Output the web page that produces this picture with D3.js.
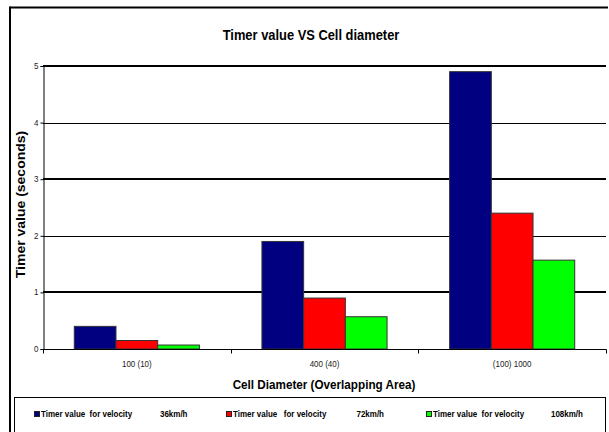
<!DOCTYPE html>
<html>
<head>
<meta charset="utf-8">
<script src="https://cdn.jsdelivr.net/npm/d3@7"></script>
<style>
  html, body { margin: 0; padding: 0; background: #fff; }
  svg { display: block; font-family: Arial, "Liberation Sans", sans-serif; }
</style>
</head>
<body>
<svg id="chart" width="609" height="432"></svg>
<script>
// Cell diameter categories (overlapping area in brackets)
const categories = ["100 (10)", "400 (40)", "(100) 1000"];
// Timer values in seconds, one array per velocity
const series = ["36km/h", "72km/h", "108km/h"];
const timer36 = [0.4, 1.9, 4.9];
const timer72 = [0.15, 0.9, 2.4];
const timer108 = [0.07, 0.57, 1.57];
const yTicks = [0, 1, 2, 3, 4, 5];
const colors = ["#000080", "#ff0000", "#00ff00"];
const legendLabels = ["Timer value  for velocity", "Timer value   for velocity", "Timer value  for velocity"];

const values = [timer36, timer72, timer108];
const rows = categories.map((c, i) => ({
  category: c,
  bars: series.map((s, j) => ({ series: s, idx: j, value: values[j][i] }))
}));

const svg = d3.select("#chart");
const NARROW = 0.86; // condensed look of the chart lettering

// places a horizontally condensed label at (x, y)
function label(parent, x, y, txt, size, opts = {}) {
  const g = parent.append("g")
    .attr("transform", `translate(${x},${y}) scale(${opts.sx || NARROW},1)` + (opts.rotate ? ` rotate(${opts.rotate})` : ""));
  return g.append("text")
    .attr("text-anchor", opts.anchor || "start")
    .attr("font-size", size)
    .attr("font-weight", opts.bold ? "bold" : "normal")
    .attr("fill", opts.fill || "#000")
    .style("white-space", "pre")
    .text(txt);
}

// outer chart frame (only the top and left edges fall within the view)
svg.append("line").attr("x1", 10).attr("x2", 608).attr("y1", 7.5).attr("y2", 7.5)
  .attr("stroke", "#000").attr("stroke-width", 2);
svg.append("line").attr("x1", 10).attr("x2", 10).attr("y1", 6.5).attr("y2", 432)
  .attr("stroke", "#000").attr("stroke-width", 2);

const plot = { left: 43, right: 606, top: 66, bottom: 349 };

const x0 = d3.scaleBand().domain(categories).range([plot.left, plot.right]).padding(0);
const x1 = d3.scaleBand().domain(series)
  .range([x0.bandwidth() / 6, x0.bandwidth() * 5 / 6]).padding(0);
const y = d3.scaleLinear().domain([0, 5]).range([plot.bottom, plot.top]);

// title
label(svg, 311, 40, "Timer value VS Cell diameter", 15, { bold: true, anchor: "middle" });

// horizontal gridlines: heavier on odd values
svg.append("g").selectAll("line").data(yTicks.filter(t => t > 0)).join("line")
  .attr("x1", plot.left).attr("x2", plot.right)
  .attr("y1", d => Math.round(y(d)) + (d % 2 ? 0 : 0.5))
  .attr("y2", d => Math.round(y(d)) + (d % 2 ? 0 : 0.5))
  .attr("stroke", "#000").attr("stroke-width", d => d % 2 ? 2 : 1);

// bars
const groups = svg.append("g").selectAll("g").data(rows).join("g")
  .attr("transform", d => `translate(${x0(d.category)},0)`);
groups.selectAll("rect").data(d => d.bars).join("rect")
  .attr("x", d => x1(d.series))
  .attr("y", d => y(d.value))
  .attr("width", x1.bandwidth())
  .attr("height", d => y(0) - y(d.value))
  .attr("fill", d => colors[d.idx])
  .attr("stroke", "#333").attr("stroke-width", 1);

// y axis
const yAxis = svg.append("g").attr("transform", `translate(${plot.left + 0.5},0)`)
  .call(d3.axisLeft(y).tickValues(yTicks).tickSize(3).tickFormat(""));
yAxis.select(".domain").attr("stroke", "#000");
yAxis.selectAll(".tick line").attr("stroke", "#000");
yTicks.forEach(t => label(svg, 38.5, y(t) + 3, d3.format("d")(t), 8.5, { anchor: "end", fill: "#222", sx: 0.94 }));

// x axis with ticks on category boundaries
const xAxisG = svg.append("g").attr("transform", `translate(0,${plot.bottom + 0.5})`);
xAxisG.append("line").attr("x1", plot.left).attr("x2", plot.right + 0.5).attr("stroke", "#000");
xAxisG.selectAll(".bt").data(categories.map(c => x0(c)).concat([plot.right])).join("line")
  .attr("class", "bt")
  .attr("x1", d => Math.round(d) + 0.5).attr("x2", d => Math.round(d) + 0.5)
  .attr("y1", 0).attr("y2", 4).attr("stroke", "#000");
categories.forEach(c => label(svg, x0(c) + x0.bandwidth() / 2, 367, c, 8.5, { anchor: "middle", fill: "#222", sx: 0.94 }));

// axis titles
label(svg, 324, 389, "Cell Diameter (Overlapping Area)", 13.6, { bold: true, anchor: "middle" });
label(svg, 25, (plot.top + plot.bottom) / 2 - 3, "Timer value (seconds)", 14, { bold: true, anchor: "middle", rotate: -90 });

// legend box
svg.append("rect").attr("x", 14.5).attr("y", 397.5).attr("width", 591).attr("height", 60)
  .attr("fill", "none").attr("stroke", "#000").attr("stroke-width", 1);

const legendX = [34, 226, 426];
const unitX = [160, 356.5, 551];
const legend = svg.append("g");
series.forEach((s, i) => {
  legend.append("rect")
    .attr("x", legendX[i] + 0.5).attr("y", 411.5).attr("width", 5).attr("height", 5)
    .attr("fill", colors[i]).attr("stroke", "#222").attr("stroke-width", 1);
  label(legend, legendX[i] + 7, 417, legendLabels[i], 8.5, { bold: true, sx: 0.94 });
  label(legend, unitX[i], 417, s, 8.5, { bold: true, sx: 0.94 });
});
</script>
</body>
</html>
